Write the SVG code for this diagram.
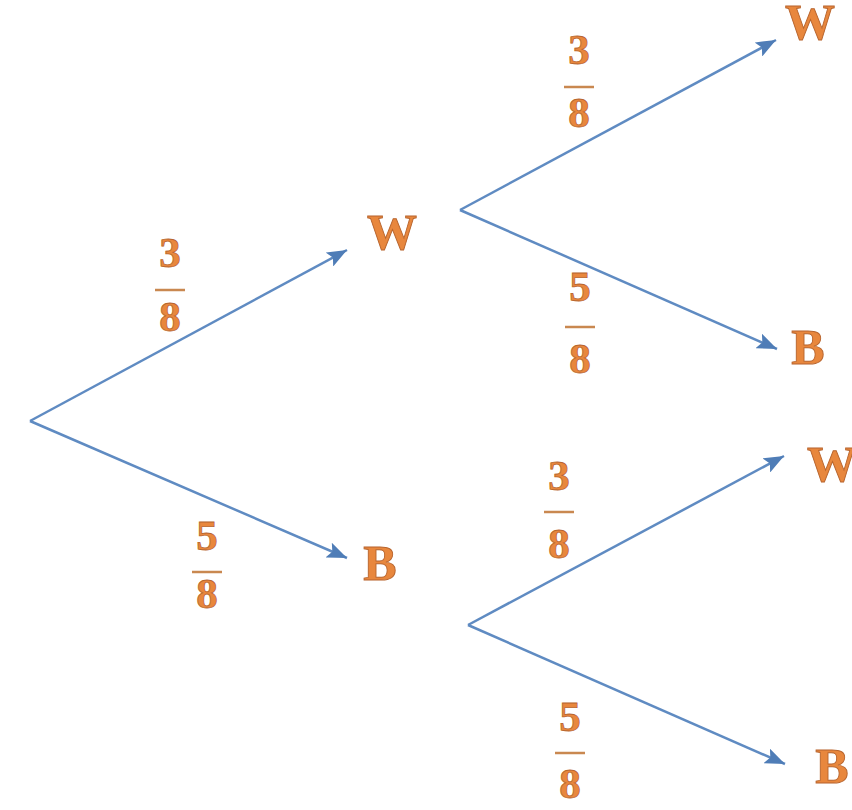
<svg xmlns="http://www.w3.org/2000/svg" width="852" height="810" viewBox="0 0 852 810">
  <style>
    .edge { stroke: #5f8bc2; stroke-width: 2.5; fill: none; marker-end: url(#tip); }
    .node { font-family: "Liberation Serif", "DejaVu Serif", serif; font-weight: bold; font-size: 50px; fill: #e8873d; stroke: #b8652e; stroke-width: 0.9; text-anchor: middle; }
    .num { font-family: "Liberation Serif", "DejaVu Serif", serif; font-weight: bold; font-size: 43px; fill: #e8873d; stroke: #b8652e; stroke-width: 0.8; text-anchor: middle; }
    .bar { stroke: #c98850; stroke-width: 2.5; }
  </style>
  <defs>
    <marker id="tip" viewBox="0 0 20 16" refX="20" refY="8" markerWidth="20" markerHeight="16" markerUnits="userSpaceOnUse" orient="auto">
      <path d="M0,0 L20,8 L0,16 L4,8 z" fill="#4f7db7"/>
    </marker>
  </defs>
  <rect width="852" height="810" fill="#ffffff"/>

  <!-- branches -->
  <g id="connectors">
    <line class="edge" x1="30" y1="421" x2="347" y2="250"/>
    <line class="edge" x1="30" y1="421" x2="347" y2="558"/>
    <line class="edge" x1="460" y1="210" x2="776" y2="40"/>
    <line class="edge" x1="460" y1="210" x2="777" y2="349"/>
    <line class="edge" x1="468" y1="625" x2="784" y2="456"/>
    <line class="edge" x1="468" y1="625" x2="785" y2="764"/>
  </g>

  <!-- branch probabilities -->
  <g id="edge-labels">
    <g id="p-w1">
      <text class="num" x="170" y="267">3</text>
      <line class="bar" x1="155" y1="290" x2="185" y2="290"/>
      <text class="num" x="170" y="331">8</text>
    </g>
    <g id="p-b1">
      <text class="num" x="207" y="550">5</text>
      <line class="bar" x1="192" y1="572" x2="222" y2="572"/>
      <text class="num" x="207" y="608">8</text>
    </g>
    <g id="p-ww">
      <text class="num" x="579" y="64">3</text>
      <line class="bar" x1="564" y1="87" x2="594" y2="87"/>
      <text class="num" x="579" y="127">8</text>
    </g>
    <g id="p-wb">
      <text class="num" x="580" y="301">5</text>
      <line class="bar" x1="565" y1="327" x2="595" y2="327"/>
      <text class="num" x="580" y="373">8</text>
    </g>
    <g id="p-bw">
      <text class="num" x="559" y="490">3</text>
      <line class="bar" x1="544" y1="512" x2="574" y2="512"/>
      <text class="num" x="559" y="558">8</text>
    </g>
    <g id="p-bb">
      <text class="num" x="570" y="731">5</text>
      <line class="bar" x1="555" y1="753" x2="585" y2="753"/>
      <text class="num" x="570" y="798">8</text>
    </g>
  </g>

  <!-- outcomes -->
  <g id="node-w1"><text class="node" x="392" y="249">W</text></g>
  <g id="node-b1"><text class="node" x="380" y="580">B</text></g>
  <g id="node-ww"><text class="node" x="810" y="39">W</text></g>
  <g id="node-wb"><text class="node" x="808" y="364">B</text></g>
  <g id="node-bw"><text class="node" x="832" y="481">W</text></g>
  <g id="node-bb"><text class="node" x="832" y="783">B</text></g>
</svg>
